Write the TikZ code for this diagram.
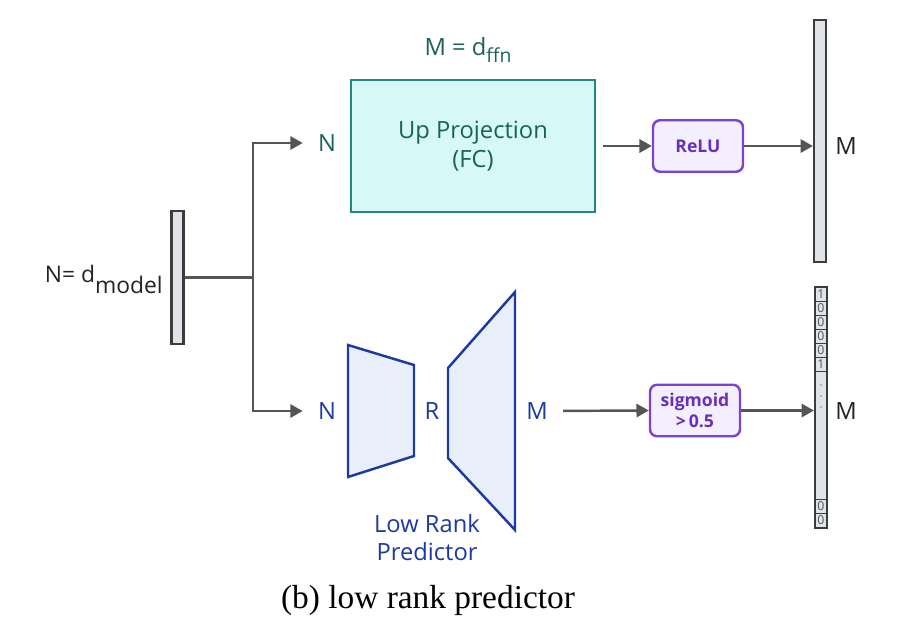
\documentclass[tikz,border=0pt]{standalone}
\usepackage{fontspec}
\setmainfont{Liberation Serif}
\setsansfont{Open Sans}
\usepackage{xcolor}
\usetikzlibrary{arrows.meta,positioning,calc}
\definecolor{tealdark}{RGB}{24,98,90}
\definecolor{tealline}{RGB}{36,136,126}
\definecolor{tealfill}{RGB}{214,248,246}
\definecolor{purpleline}{RGB}{124,66,210}
\definecolor{purplefill}{RGB}{244,239,254}
\definecolor{purpletext}{RGB}{104,48,186}
\definecolor{rankblue}{RGB}{28,58,160}
\definecolor{rankfill}{RGB}{232,238,250}
\definecolor{vecfill}{RGB}{224,227,232}
\definecolor{vecline}{RGB}{60,60,60}
\definecolor{connline}{RGB}{85,85,85}
\definecolor{textdark}{RGB}{35,35,35}

\begin{document}
\begin{tikzpicture}[x=0.02cm, y=-0.02cm, font=\sffamily\fontsize{13.5}{15}\selectfont,
    vecbar/.style={rectangle, draw=vecline, fill=vecfill, line width=1.2pt, minimum width=0.24cm, inner sep=0pt},
    conn/.style={draw=connline, line width=1.4pt},
    arr/.style={conn, -{Triangle[length=7pt, width=7.5pt]}},
    actbox/.style={rectangle, rounded corners=4pt, draw=purpleline, fill=purplefill, line width=1.4pt, text=purpletext,
      font=\sffamily\bfseries\fontsize{10}{12}\selectfont, align=center, minimum width=1.8cm, minimum height=1.03cm, inner sep=1pt},
    dimlbl/.style={inner sep=0.3cm},
    trap/.style={draw=rankblue, fill=rankfill, line width=1.4pt, line join=miter}]
        \useasboundingbox (0,0) rectangle (900,627);

        % input vector
        \node[vecbar, minimum height=2.66cm] (inp) at (177.5,277.5) {};
        \node[anchor=base east, inner sep=0pt, text=textdark, font=\sffamily\fontsize{13}{15}\selectfont] (inlbl) at (163,282)
          {N= d\raisebox{-0.22cm}{model}};
        \coordinate (split) at (253,277.5);

        % upper branch
        \node[dimlbl, text=tealdark] (ntop) at (327,143) {N};
        \node[rectangle, draw=tealline, fill=tealfill, line width=1.4pt, minimum width=4.88cm, minimum height=2.64cm,
          align=center, text=tealdark, font=\sffamily\fontsize{13.5}{16.5}\selectfont] (upproj) at (473,146) {Up Projection\\(FC)};
        \node[text=tealdark] (mdim) at (468,50) {M = d\raisebox{-0.14cm}{\fontsize{11}{12}\selectfont ffn}};
        \node[actbox] (relu) at (698,146) {ReLU};
        \node[vecbar, minimum height=4.84cm] (outtop) at (820,141) {};
        \node[text=textdark] (mtop) at (846,146) {M};

        % lower branch
        \node[dimlbl, text=rankblue] (nlow) at (327,411) {N};
        \filldraw[trap] (348,345) -- (414,365) -- (414,456) -- (348,477) -- cycle;
        \filldraw[trap] (448,368) -- (515,292) -- (515,530) -- (448,458) -- cycle;
        \node[text=rankblue] (rlow) at (432,411) {R};
        \node[dimlbl, text=rankblue] (mlow) at (537,411) {M};
        \node[align=center, text=rankblue, font=\sffamily\fontsize{13.5}{16}\selectfont] (predlbl) at (427,538) {Low Rank\\Predictor};
        \node[actbox] (sig) at (695,410.5) {sigmoid\\{>}\,0.5};
        \node[vecbar, minimum height=4.82cm] (outlow) at (821,407.5) {};
        \node[text=textdark] (mout) at (846,411) {M};

        % mask entries
        \foreach \d [count=\i] in {1,0,0,0,0,1} {
          \node[text=connline, font=\sffamily\fontsize{7}{7}\selectfont, inner sep=0pt] (bit\i) at (821,{287+14*\i-7}) {\d};
          \draw[vecline, line width=0.5pt] (815,{287+14*\i}) -- (827,{287+14*\i});
        }
        \foreach \y in {385,396,407} {
          \fill[connline!70] (821,\y) circle (0.5pt);
        }
        \draw[vecline, line width=0.5pt] (815,499) -- (827,499);
        \draw[vecline, line width=0.5pt] (815,513) -- (827,513);
        \node[text=connline, font=\sffamily\fontsize{7}{7}\selectfont, inner sep=0pt] (bit7) at (821,506) {0};
        \node[text=connline, font=\sffamily\fontsize{7}{7}\selectfont, inner sep=0pt] (bit8) at (821,520) {0};

        % connectors
        \draw[conn] (inp.east) -- (split);
        \draw[arr] (split) |- (ntop);
        \draw[arr] (split) |- (nlow);
        \draw[arr, shorten <=4pt] (upproj.east) -- (relu.west);
        \draw[arr] (relu.east) -- (outtop.west |- relu.east);
        \draw[arr] (mlow) -- (sig.west);
        \draw[arr] (sig.east) -- (outlow.west |- sig.east);

        % caption
        \node[font=\rmfamily\fontsize{19}{21}\selectfont, text=black] (caption) at (428,600) {(b) low rank predictor};
      \end{tikzpicture}
\end{document}
